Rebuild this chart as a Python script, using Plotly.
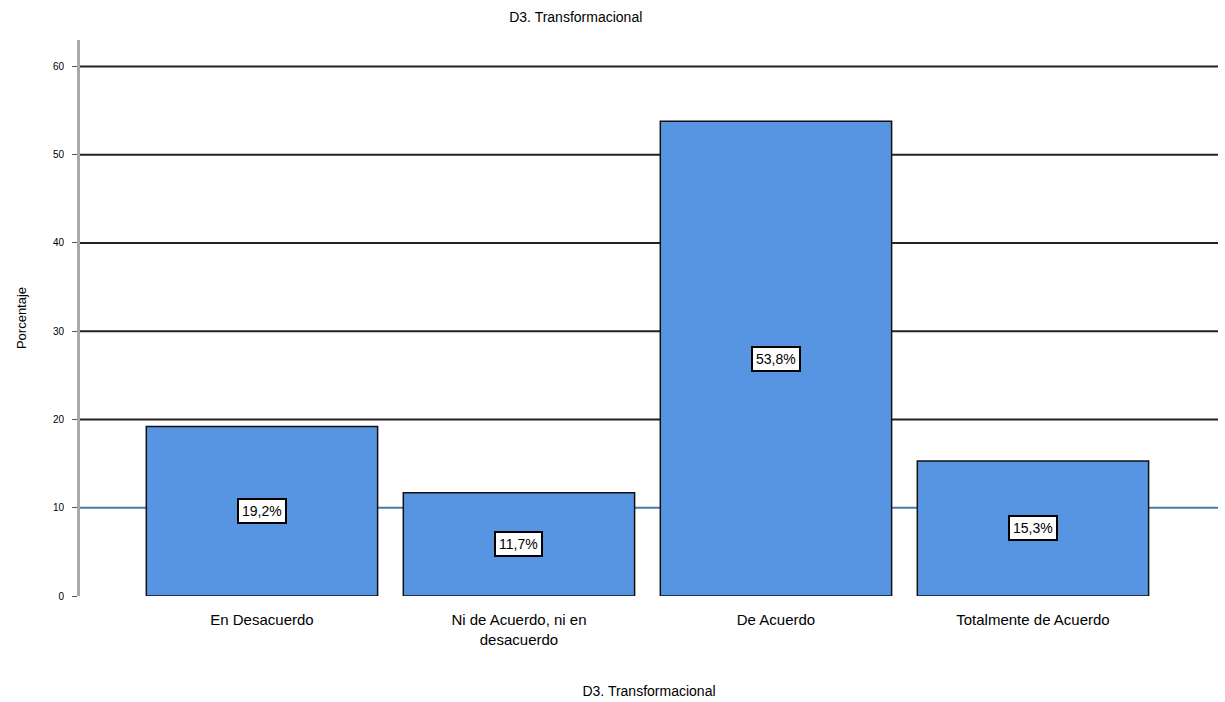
import plotly.graph_objects as go

categories = ["En Desacuerdo", "Ni de Acuerdo, ni en<br>desacuerdo", "De Acuerdo", "Totalmente de Acuerdo"]
values = [19.2, 11.7, 53.8, 15.3]
labels = ["19,2%", "11,7%", "53,8%", "15,3%"]
y_ticks = [0, 10, 20, 30, 40, 50, 60]
grid_values = [20, 30, 40, 50, 60]
ref_value = 10

x = list(range(len(categories)))

fig = go.Figure()
fig.add_trace(go.Bar(
    x=x, y=values, width=0.9,
    marker=dict(color="#5795e3", line=dict(color="#111111", width=1.5)),
    hoverinfo="skip",
))

for xi, v, lab in zip(x, values, labels):
    fig.add_annotation(x=xi, y=v / 2, text=lab, showarrow=False,
                       bgcolor="white", bordercolor="black", borderwidth=2,
                       borderpad=3, font=dict(family="Liberation Sans", size=14, color="black"))

for g in grid_values:
    fig.add_shape(type="line", xref="paper", x0=0, x1=1, yref="y", y0=g, y1=g,
                  line=dict(color="#222222", width=2), layer="below")
fig.add_shape(type="line", xref="paper", x0=0, x1=1, yref="y", y0=ref_value, y1=ref_value,
              line=dict(color="#4a79ad", width=2), layer="below")

fig.update_layout(
    width=1225, height=702,
    margin=dict(l=80, r=7, t=40, b=106),
    plot_bgcolor="white", paper_bgcolor="white",
    showlegend=False,
    font=dict(family="Liberation Sans", size=14, color="black"),
    title=dict(text="D3. Transformacional", x=0.47, xanchor="center", y=0.975, yanchor="middle",
               font=dict(size=14)),
    xaxis=dict(
        tickmode="array", tickvals=x, ticktext=categories,
        range=[-0.708, 3.72], showgrid=False, zeroline=False, showline=False,
        ticks="", tickfont=dict(size=15), ticklabelstandoff=13,
        title=dict(text="D3. Transformacional", font=dict(size=14), standoff=39),
    ),
    yaxis=dict(
        range=[0, 63], tickmode="array", tickvals=y_ticks,
        showgrid=False, zeroline=False, showline=True, linecolor="#aaaaaa", linewidth=3,
        ticks="outside", ticklen=5, tickcolor="#555555",
        tickfont=dict(size=10), ticklabelstandoff=6,
        title=dict(text="Porcentaje", font=dict(size=13), standoff=24),
    ),
)

fig.write_html("out.html")
